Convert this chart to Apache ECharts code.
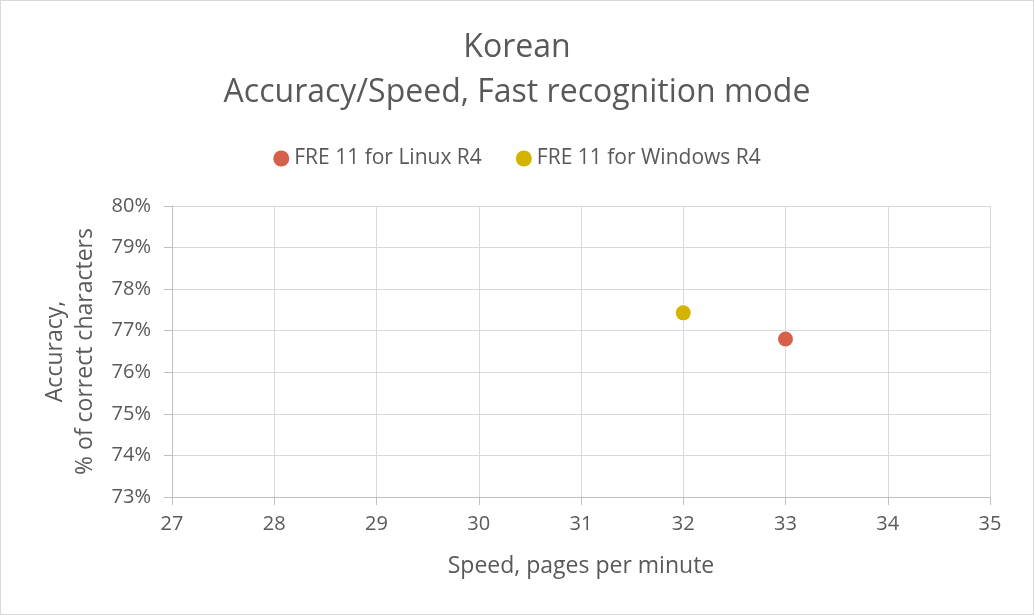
<!DOCTYPE html>
<html>
<head>
<meta charset="utf-8">
<script src="https://cdn.jsdelivr.net/npm/echarts@6/dist/echarts.min.js"></script>
<style>
html,body{margin:0;padding:0;background:#fff;}
#c{width:1032px;height:613px;border:1px solid #d9d9d9;}
</style>
</head>
<body>
<div id="c"></div>
<script>
const seriesNames = ["FRE 11 for Linux R4", "FRE 11 for Windows R4"];
const linuxR4 = [[33, 76.8]];
const windowsR4 = [[32, 77.43]];
const xTicks = [27, 35, 1];
const yTicks = [73, 80, 1];
const colors = ["#D6614A", "#D4B400"];
const FONT = "'Open Sans', sans-serif";
const chart = echarts.init(document.getElementById('c'));
chart.setOption({
  animation: false,
  textStyle: {fontFamily: FONT},
  title: {
    text: "Korean\nAccuracy/Speed, Fast recognition mode",
    left: 'center', top: 19,
    textStyle: {fontFamily: FONT, fontSize: 32, fontWeight: 'normal', color: '#595959', lineHeight: 45}
  },
  legend: {
    top: 142, left: 'center', itemGap: 34, itemWidth: 16, itemHeight: 16,
    icon: 'circle',
    textStyle: {fontFamily: FONT, fontSize: 21, color: '#595959'},
    data: seriesNames
  },
  grid: {left: 171, right: 43, top: 205, bottom: 117, containLabel: false},
  xAxis: {
    type: 'value', min: xTicks[0], max: xTicks[1], interval: xTicks[2],
    name: 'Speed, pages per minute', nameLocation: 'middle', nameGap: 58,
    nameTextStyle: {fontFamily: FONT, fontSize: 23, color: '#595959'},
    axisLine: {show: true, lineStyle: {color: '#bfbfbf', width: 1}},
    axisTick: {show: true, length: 8, lineStyle: {color: '#bfbfbf'}},
    axisLabel: {fontFamily: FONT, fontSize: 20, color: '#595959', margin: 17},
    splitLine: {show: true, lineStyle: {color: '#d9d9d9'}}
  },
  yAxis: {
    type: 'value', min: yTicks[0], max: yTicks[1], interval: yTicks[2],
    name: 'Accuracy,\n% of correct characters', nameLocation: 'middle', nameGap: 72, nameRotate: 90,
    nameTextStyle: {fontFamily: FONT, fontSize: 23, color: '#595959', lineHeight: 30},
    axisLine: {show: true, lineStyle: {color: '#bfbfbf', width: 1}},
    axisTick: {show: true, length: 8, lineStyle: {color: '#bfbfbf'}},
    axisLabel: {fontFamily: FONT, fontSize: 20, color: '#595959', margin: 21, formatter: '{value}%'},
    splitLine: {show: true, lineStyle: {color: '#d9d9d9'}}
  },
  series: [
    {name: seriesNames[0], type: 'scatter', data: linuxR4, symbolSize: 15, itemStyle: {color: colors[0], opacity: 1}},
    {name: seriesNames[1], type: 'scatter', data: windowsR4, symbolSize: 15, itemStyle: {color: colors[1], opacity: 1}}
  ]
});
</script>
</body>
</html>
